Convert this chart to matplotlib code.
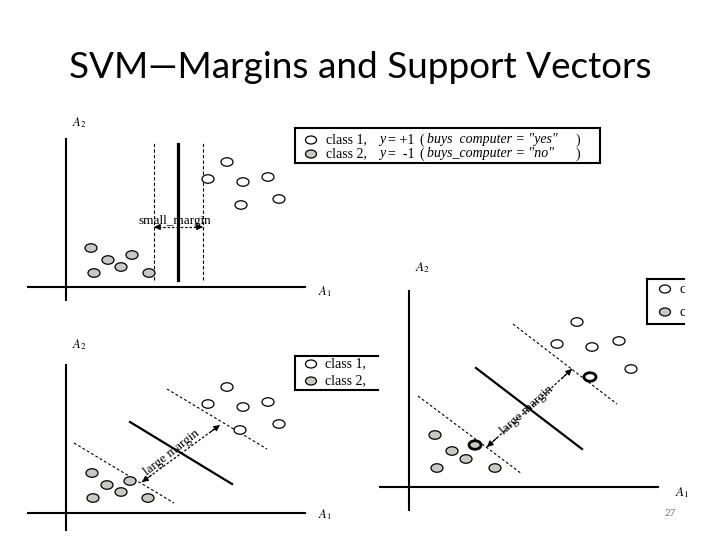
import matplotlib
matplotlib.use("Agg")
import matplotlib.pyplot as plt
from matplotlib.patches import Ellipse, Rectangle

plt.rcParams['mathtext.fontset'] = 'stix'

title = "SVM\u2014Margins and Support Vectors"
page_no = "27"

# panel 1: small margin (units: distance from the axis origin)
p1_c1_x = [14.2, 16.1, 17.7, 20.2, 17.5, 21.3]
p1_c1_y = [10.8, 12.5, 10.5, 11.0, 8.2, 8.8]
p1_c2_x = [2.5, 4.2, 6.6, 5.5, 2.8, 8.3]
p1_c2_y = [3.9, 2.7, 3.2, 2.0, 1.4, 1.4]
p1_hyper = [(11.2, 0.7), (11.2, 14.3)]
p1_low = [(8.8, 0.7), (8.8, 14.4)]
p1_up = [(13.7, 0.7), (13.7, 14.4)]
p1_arrow = [(8.8, 6.0), (13.7, 6.0)]

# panel 2: large margin
p2_c1_x = [16.1, 14.2, 17.7, 20.2, 17.4, 21.3]
p2_c1_y = [12.6, 10.9, 10.6, 11.1, 8.3, 8.9]
p2_c2_x = [2.6, 4.1, 6.4, 5.5, 2.7, 8.2]
p2_c2_y = [4.0, 2.8, 3.2, 2.1, 1.5, 1.5]
p2_hyper = [(6.4, 9.1), (16.6, 2.9)]
p2_up = [(10.1, 12.4), (20.1, 6.4)]
p2_low = [(0.8, 7.0), (10.8, 1.0)]
p2_arrow = [(7.6, 3.1), (15.4, 8.8)]

# panel 3: large margin with support vectors
p3_c1_x = [16.8, 14.8, 18.3, 21.0, 22.2]
p3_c1_y = [16.5, 14.3, 14.0, 14.6, 11.8]
p3_c2_x = [2.6, 4.3, 5.7, 2.8, 8.6]
p3_c2_y = [5.2, 3.6, 2.8, 1.9, 1.9]
p3_sv1 = (18.1, 11.0)
p3_sv2 = (6.6, 4.2)
p3_hyper = [(6.7, 11.9), (17.3, 3.8)]
p3_up = [(10.4, 16.3), (20.8, 8.3)]
p3_low = [(0.9, 9.1), (11.3, 1.3)]
p3_arrow = [(7.8, 4.0), (16.3, 11.8)]

legend_class = ["class 1,", "class 2,"]
legend_y = ["y", "y"]
legend_eq = ["= +1", "=  -1"]
legend_desc = ['buys  computer = "yes"', 'buys_computer = "no"']

W, H = 720, 540
GRAY = "#c9c9c4"
SERIF = "Liberation Serif"

fig = plt.figure(figsize=(7.2, 5.4), dpi=100)
fig.patch.set_facecolor("white")


def panel(box, origin):
    # box = (left, top, right, bottom) in pixels, origin = axis crossing in pixels
    l, t, r, b = box
    ax = fig.add_axes([l / W, 1 - b / H, (r - l) / W, (b - t) / H])
    ax.set_xlim((l - origin[0]) / 10, (r - origin[0]) / 10)
    ax.set_ylim((origin[1] - b) / 10, (origin[1] - t) / 10)
    ax.axis("off")
    return ax


def dots(ax, xs, ys, fc, lw=0.9):
    for x, y in zip(xs, ys):
        ax.add_patch(Ellipse((x, y), 1.2, 0.85, facecolor=fc, edgecolor="black", lw=lw, zorder=4))


def seg(ax, pts, **kw):
    ax.plot([pts[0][0], pts[1][0]], [pts[0][1], pts[1][1]], color="black", **kw)


def margin_arrow(ax, pts):
    (x0, y0), (x1, y1) = pts
    ax.plot([x0, x1], [y0, y1], color="black", lw=0.9, ls=(0, (2, 1.5)))
    dx, dy = (x1 - x0) * 0.12, (y1 - y0) * 0.12
    for (xa, ya), (xb, yb) in [((x0 + dx, y0 + dy), (x0, y0)), ((x1 - dx, y1 - dy), (x1, y1))]:
        ax.annotate("", xy=(xb, yb), xytext=(xa, ya),
                    arrowprops=dict(arrowstyle="-|>", color="black", lw=0.8,
                                    mutation_scale=9, shrinkA=0, shrinkB=0))


def frame(ax, xr, yr):
    ax.plot(xr, [0, 0], color="black", lw=1.5)
    ax.plot([0, 0], yr, color="black", lw=1.5)


# ---- panel 1
ax1 = panel((20, 110, 335, 305), (66, 287))
frame(ax1, [-3.8, 23.9], [-1.3, 14.8])
seg(ax1, p1_hyper, lw=2.3)
seg(ax1, p1_low, lw=0.8, ls=(0, (3, 2)))
seg(ax1, p1_up, lw=0.8, ls=(0, (3, 2)))
margin_arrow(ax1, p1_arrow)
ax1.text(10.9, 6.6, "small_margin", fontsize=9.5, family=SERIF, ha="center", va="center")
dots(ax1, p1_c2_x, p1_c2_y, GRAY)
dots(ax1, p1_c1_x, p1_c1_y, "white")
ax1.text(0.6, 16.4, r"$A_2$", fontsize=9, ha="left", va="center")
ax1.text(25.2, -0.5, r"$A_1$", fontsize=9, ha="left", va="center")

# ---- panel 2
ax2 = panel((20, 335, 335, 540), (66, 513))
frame(ax2, [-3.8, 23.9], [-1.7, 14.8])
seg(ax2, p2_hyper, lw=1.6)
seg(ax2, p2_up, lw=0.8, ls=(0, (2.5, 2)))
seg(ax2, p2_low, lw=0.8, ls=(0, (2.5, 2)))
margin_arrow(ax2, p2_arrow)
ax2.text(10.6, 6.0, "large margin", fontsize=9.5, family=SERIF, ha="center", va="center",
         rotation=38, rotation_mode="anchor")
dots(ax2, p2_c2_x, p2_c2_y, GRAY)
dots(ax2, p2_c1_x, p2_c1_y, "white")
ax2.text(0.6, 16.8, r"$A_2$", fontsize=9, ha="left", va="center")
ax2.text(25.2, -0.2, r"$A_1$", fontsize=9, ha="left", va="center")

# ---- panel 3
ax3 = panel((378, 250, 700, 515), (409, 487))
frame(ax3, [-2.9, 24.9], [-2.3, 19.6])
seg(ax3, p3_hyper, lw=1.6)
seg(ax3, p3_up, lw=0.8, ls=(0, (2.5, 2)))
seg(ax3, p3_low, lw=0.8, ls=(0, (2.5, 2)))
margin_arrow(ax3, p3_arrow)
ax3.text(11.8, 7.7, "large margin", fontsize=9.5, family=SERIF, ha="center", va="center",
         rotation=42, rotation_mode="anchor")
dots(ax3, p3_c2_x, p3_c2_y, GRAY)
dots(ax3, p3_c1_x, p3_c1_y, "white")
dots(ax3, [p3_sv1[0]], [p3_sv1[1]], "white", lw=2.0)
dots(ax3, [p3_sv2[0]], [p3_sv2[1]], GRAY, lw=2.0)
ax3.text(0.6, 21.9, r"$A_2$", fontsize=9.5, ha="left", va="center")
ax3.text(26.6, -0.6, r"$A_1$", fontsize=9.5, ha="left", va="center")

# ---- overlay in pixel coordinates: title, legends, page number
ov = fig.add_axes([0, 0, 1, 1])
ov.set_xlim(0, W)
ov.set_ylim(H, 0)
ov.axis("off")

t = ov.text(360, 68, title, fontsize=32, family="Lato", ha="center", va="center")
fig.canvas.draw()
w = t.get_window_extent().width
t.set_fontsize(32 * 584 / w)

ov.text(670, 514, page_no, fontsize=7, color="#808080", family="Lato", ha="center", va="center")


def legend_box(x0, y0, x1, y1, right=True):
    ov.plot([x0, x1], [y0, y0], color="black", lw=1.5)
    ov.plot([x0, x1], [y1, y1], color="black", lw=1.5)
    ov.plot([x0, x0], [y0, y1], color="black", lw=1.5)
    if right:
        ov.plot([x1, x1], [y0, y1], color="black", lw=1.5)


def legend_entries(cx, rows_y, tx, full):
    for i, (fc, yy) in enumerate(zip(["white", GRAY], rows_y)):
        ov.add_patch(Ellipse((cx, yy), 11, 8, facecolor=fc, edgecolor="black", lw=0.9, zorder=3))
        kw = dict(fontsize=10, family=SERIF, ha="left", va="center", zorder=3)
        ov.text(tx, yy, legend_class[i], **kw)
        if full:
            ov.text(tx + 53, yy, legend_y[i], style="italic", **kw)
            ov.text(tx + 62, yy, legend_eq[i], **kw)
            ov.text(tx + 93, yy, "(", **kw)
            ov.text(tx + 101, yy, legend_desc[i], style="italic", **kw)
            ov.text(tx + 250, yy, ")", **kw)


legend_box(295, 128, 600, 163)
legend_entries(311, [140, 154], 326, True)

legend_box(295, 356, 378, 390, right=False)
legend_entries(311, [364, 381], 325, False)

legend_box(647, 279, 685, 324, right=False)
legend_entries(665, [289, 312], 680, False)
# the right-hand picture is cut off at the slide edge
ov.add_patch(Rectangle((685, 270), 35, 60, facecolor="white", edgecolor="none", zorder=5))

fig.savefig("out.png", dpi=100, facecolor="white")
